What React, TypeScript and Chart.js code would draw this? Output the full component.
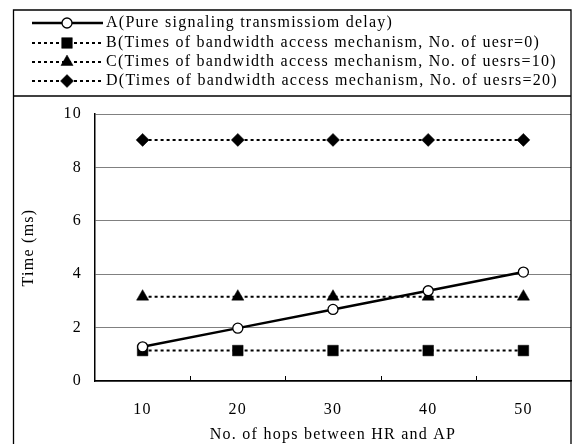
import React, { useEffect, useRef } from "react";
import { Chart, registerables } from "chart.js";
import { drawPoint } from "chart.js/helpers";

Chart.register(...registerables);

const categories = ["10", "20", "30", "40", "50"];
const seriesA = [1.28, 1.98, 2.68, 3.38, 4.08];
const seriesB = [1.14, 1.14, 1.14, 1.14, 1.14];
const seriesC = [3.16, 3.16, 3.16, 3.16, 3.16];
const seriesD = [9.03, 9.03, 9.03, 9.03, 9.03];
const labels = [
  "A(Pure signaling transmissiom delay)",
  "B(Times of bandwidth access mechanism, No. of uesr=0)",
  "C(Times of bandwidth access mechanism, No. of uesrs=10)",
  "D(Times of bandwidth access mechanism, No. of uesrs=20)",
];
const yTitle = "Time (ms)";
const xTitle = "No. of hops between HR and AP";
const FONT = "'Liberation Serif', 'Times New Roman', serif";
const SPACING = "1.25px";

const spacingPlugin = {
  id: "spacing",
  beforeDraw(chart: any) {
    (chart.ctx as any).letterSpacing = SPACING;
  },
};

const framePlugin = {
  id: "frame",
  afterDraw(chart: any) {
    const ctx = chart.ctx;
    const ca = chart.chartArea;
    ctx.save();
    (ctx as any).letterSpacing = SPACING;
    // outer frame
    ctx.strokeStyle = "#000";
    ctx.lineWidth = 1.3;
    ctx.beginPath();
    ctx.moveTo(13.5, 460);
    ctx.lineTo(13.5, 10);
    ctx.lineTo(571, 10);
    ctx.lineTo(571, 460);
    ctx.stroke();
    ctx.beginPath();
    ctx.moveTo(13.5, 96);
    ctx.lineTo(571, 96);
    ctx.stroke();

    // legend
    const rows = [23, 43, 62, 81];
    chart.data.datasets.forEach((ds: any, i: number) => {
      const y = rows[i];
      ctx.save();
      ctx.strokeStyle = "#000";
      ctx.lineWidth = ds.borderWidth;
      ctx.setLineDash(ds.borderDash || []);
      ctx.beginPath();
      ctx.moveTo(32, y);
      ctx.lineTo(103, y);
      ctx.stroke();
      ctx.restore();
      ctx.save();
      ctx.fillStyle = ds.pointBackgroundColor;
      ctx.strokeStyle = ds.pointBorderColor;
      ctx.lineWidth = ds.pointBorderWidth;
      drawPoint(ctx, { pointStyle: ds.pointStyle, radius: ds.pointRadius, rotation: 0, borderWidth: ds.pointBorderWidth }, 67, y);
      ctx.restore();
      ctx.fillStyle = "#000";
      ctx.font = `16px ${FONT}`;
      ctx.textBaseline = "middle";
      ctx.textAlign = "left";
      ctx.fillText(labels[i], 106, y);
    });

    // inward x tick marks between categories
    const xs = chart.scales.x;
    ctx.strokeStyle = "#000";
    ctx.lineWidth = 1;
    for (let i = 0; i < categories.length - 1; i++) {
      const p = Math.round((xs.getPixelForValue(i) + xs.getPixelForValue(i + 1)) / 2) + 0.5;
      ctx.beginPath();
      ctx.moveTo(p, ca.bottom);
      ctx.lineTo(p, ca.bottom - 5);
      ctx.stroke();
    }

    // axis titles
    ctx.fillStyle = "#000";
    ctx.font = `16px ${FONT}`;
    ctx.textAlign = "center";
    ctx.textBaseline = "middle";
    ctx.fillText(xTitle, (ca.left + ca.right) / 2, 435);
    ctx.save();
    ctx.translate(29, (ca.top + ca.bottom) / 2);
    ctx.rotate(-Math.PI / 2);
    ctx.fillText(yTitle, 0, 0);
    ctx.restore();
    ctx.restore();
  },
};

export default function App() {
  const ref = useRef<HTMLCanvasElement>(null);
  useEffect(() => {
    const dotted = [3, 3];
    const chart = new Chart(ref.current!, {
      type: "line",
      data: {
        labels: categories,
        datasets: [
          { label: labels[0], data: seriesA, borderColor: "#000", borderWidth: 2.5, pointStyle: "circle", pointRadius: 5, pointBackgroundColor: "#fff", pointBorderColor: "#000", pointBorderWidth: 1.3 },
          { label: labels[1], data: seriesB, borderColor: "#000", borderWidth: 2, borderDash: dotted, pointStyle: "rect", pointRadius: 7.5, pointBackgroundColor: "#000", pointBorderColor: "#000", pointBorderWidth: 0.5 },
          { label: labels[2], data: seriesC, borderColor: "#000", borderWidth: 2, borderDash: dotted, pointStyle: "triangle", pointRadius: 7, pointBackgroundColor: "#000", pointBorderColor: "#000", pointBorderWidth: 0.5 },
          { label: labels[3], data: seriesD, borderColor: "#000", borderWidth: 2, borderDash: dotted, pointStyle: "rectRot", pointRadius: 6.5, pointBackgroundColor: "#000", pointBorderColor: "#000", pointBorderWidth: 0.5 },
        ] as any,
      },
      options: {
        animation: false,
        responsive: false,
        maintainAspectRatio: false,
        layout: { autoPadding: false, padding: { top: 114, right: 1, left: 0, bottom: 0 } },
        plugins: { legend: { display: false }, tooltip: { enabled: false } },
        scales: {
          x: {
            offset: true,
            grid: { display: false },
            border: { display: true, color: "#000", width: 1.5 },
            ticks: { color: "#000", font: { family: FONT, size: 16 }, padding: 11 },
            afterFit: (s: any) => { s.height = 63; s.paddingLeft = 0; s.paddingRight = 0; },
          },
          y: {
            min: 0,
            max: 10,
            ticks: { stepSize: 2, color: "#000", font: { family: FONT, size: 16 }, padding: 13 },
            grid: { color: "#808080", lineWidth: 1, drawTicks: false },
            border: { display: true, color: "#000", width: 1.5 },
            afterFit: (s: any) => { s.width = 95; s.paddingTop = 0; s.paddingBottom = 0; },
          },
        },
      },
      plugins: [spacingPlugin, framePlugin],
    });
    return () => chart.destroy();
  }, []);
  return (
    <div style={{ position: "fixed", left: 0, top: 0, width: 572, height: 444, background: "#fff" }}>
      <canvas ref={ref} width={572} height={444} style={{ width: 572, height: 444, display: "block" }} />
    </div>
  );
}
